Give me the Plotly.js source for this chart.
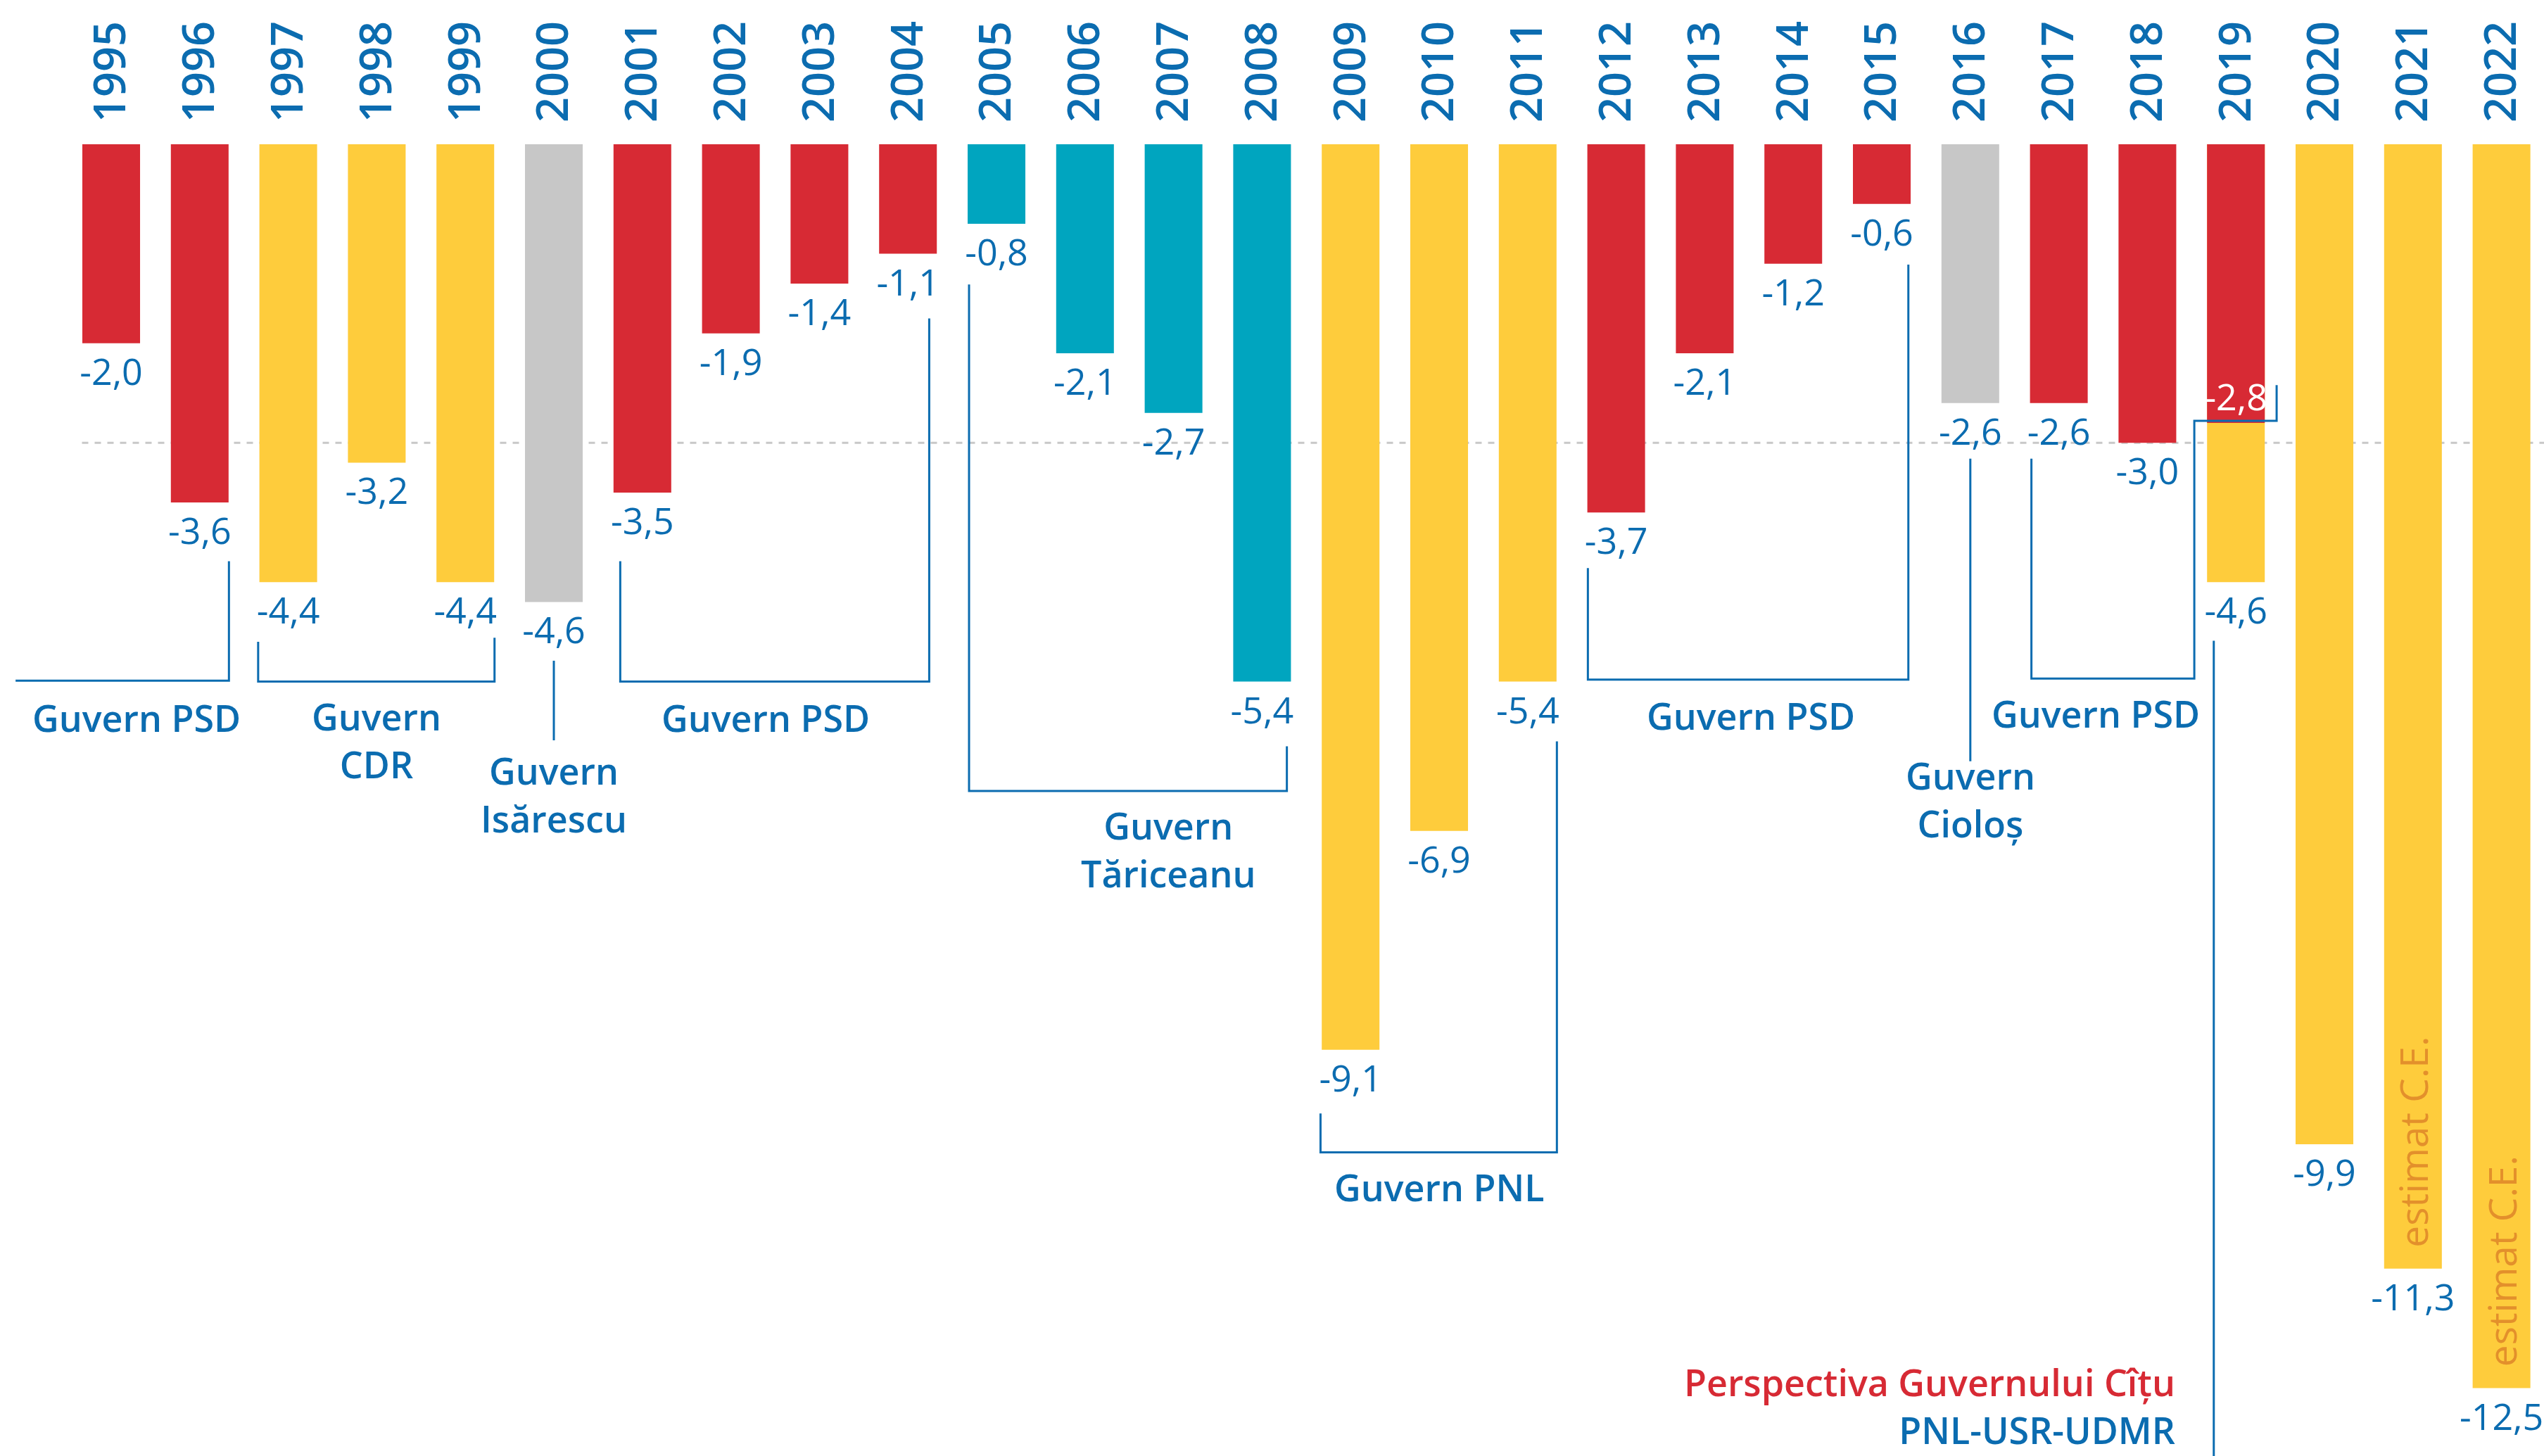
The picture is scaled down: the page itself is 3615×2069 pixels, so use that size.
<!DOCTYPE html>
<html>
<head>
<meta charset="utf-8">
<script src="https://cdn.plot.ly/plotly-3.0.1.min.js"></script>
<style>
  html, body { margin: 0; padding: 0; background: #fff; }
  #plot { width: 3615px; height: 2069px; }
</style>
</head>
<body>
<div id="plot"></div>
<script>
// deficit bugetar (% PIB), 1995-2022
const years = ["1995", "1996", "1997", "1998", "1999", "2000", "2001", "2002", "2003", "2004",
  "2005", "2006", "2007", "2008", "2009", "2010", "2011", "2012", "2013", "2014",
  "2015", "2016", "2017", "2018", "2019", "2020", "2021", "2022"];
// lungimea barelor asa cum sunt desenate
const deficit = [-2.0, -3.6, -4.4, -3.2, -4.4, -4.6, -3.5, -1.9, -1.4, -1.1,
  -0.8, -2.1, -2.7, -5.4, -9.1, -6.9, -5.4, -3.7, -2.1, -1.2,
  -0.6, -2.6, -2.6, -3.0, -2.8, -10.05, -11.3, -12.5];
// valorile scrise sub bare
const deficitLabel = [-2.0, -3.6, -4.4, -3.2, -4.4, -4.6, -3.5, -1.9, -1.4, -1.1,
  -0.8, -2.1, -2.7, -5.4, -9.1, -6.9, -5.4, -3.7, -2.1, -1.2,
  -0.6, -2.6, -2.6, -3.0, -2.8, -9.9, -11.3, -12.5];
const party = ["PSD", "PSD", "CDR", "CDR", "CDR", "tehnocrat", "PSD", "PSD", "PSD", "PSD",
  "PNL-PD", "PNL-PD", "PNL-PD", "PNL-PD", "PNL", "PNL", "PNL", "PSD", "PSD", "PSD",
  "PSD", "tehnocrat", "PSD", "PSD", "PSD", "PNL", "PNL", "PNL"];
// 2019 revizuit (bara galbena sub cea rosie)
const revisedIdx = [24];
const revisedBar = [-4.4];
const revisedLabel = [-4.6];
const estimatIdx = [26, 27];
const estimatText = "estimat C.E.";

const BLUE = "#0b6cb0";
const RED = "#d72a34";
const partyColor = {
  "PSD": RED,
  "CDR": "#fecc3c",
  "PNL": "#fecc3c",
  "tehnocrat": "#c7c7c7",
  "PNL-PD": "#00a5bf"
};
const FONT = "Open Sans, Noto Sans, sans-serif";

const fmt = (v) => v.toFixed(1).replace(".", ",");
const idx = years.map((_, i) => i);

const mainTrace = {
  type: "bar",
  x: idx,
  y: deficit,
  marker: { color: party.map(p => partyColor[p]), line: { width: 0 } },
  text: deficitLabel.map(fmt),
  textposition: idx.map(i => revisedIdx.includes(i) ? "inside" : "outside"),
  insidetextanchor: "end",
  textangle: 0,
  constraintext: "none",
  cliponaxis: false,
  textfont: { family: FONT, size: 52, color: idx.map(i => revisedIdx.includes(i) ? "#ffffff" : BLUE) },
  hoverinfo: "skip"
};

const revisedTrace = {
  type: "bar",
  x: revisedIdx,
  y: revisedBar,
  marker: { color: partyColor["PNL"], line: { width: 0 } },
  text: revisedLabel.map(fmt),
  textposition: "outside",
  textangle: 0,
  constraintext: "none",
  cliponaxis: false,
  textfont: { family: FONT, size: 52, color: BLUE },
  hoverinfo: "skip"
};

// acolade guverne (coordonate: index an, valoare)
const brackets = [
  [[-1.08, -5.39], [1.33, -5.39], [1.33, -4.19]],
  [[1.66, -5.0], [1.66, -5.40], [4.33, -5.40], [4.33, -4.96]],
  [[5, -5.19], [5, -5.99]],
  [[5.75, -4.19], [5.75, -5.40], [9.24, -5.40], [9.24, -1.75]],
  [[9.69, -1.41], [9.69, -6.50], [13.28, -6.50], [13.28, -6.05]],
  [[13.66, -9.74], [13.66, -10.13], [16.33, -10.13], [16.33, -6.0]],
  [[16.68, -4.26], [16.68, -5.38], [20.3, -5.38], [20.3, -1.21]],
  [[21, -3.16], [21, -6.2]],
  [[21.69, -3.16], [21.69, -5.37], [23.53, -5.37], [23.53, -2.78], [24.46, -2.78], [24.46, -2.42]],
  [[23.75, -4.99], [23.75, -13.6]]
];

const groupLabels = [
  { t: "Guvern PSD", x: 0.29, y: -5.76 },
  { t: "Guvern<br>CDR", x: 3, y: -5.985 },
  { t: "Guvern<br>Isărescu", x: 5, y: -6.53 },
  { t: "Guvern PSD", x: 7.39, y: -5.76 },
  { t: "Guvern<br>Tăriceanu", x: 11.94, y: -7.085 },
  { t: "Guvern PNL", x: 15.0, y: -10.48 },
  { t: "Guvern PSD", x: 18.52, y: -5.74 },
  { t: "Guvern<br>Cioloș", x: 21, y: -6.58 },
  { t: "Guvern PSD", x: 22.42, y: -5.72 }
];

const shapes = [{
  type: "line", xref: "x", yref: "y",
  x0: -0.33, x1: 27.6, y0: -3, y1: -3,
  line: { color: "#c8c8c8", width: 3, dash: "dash" },
  layer: "below"
}].concat(brackets.map(pts => ({
  type: "path", xref: "x", yref: "y",
  path: pts.map((p, k) => (k ? "L" : "M") + p[0] + "," + p[1]).join(" "),
  line: { color: BLUE, width: 3 },
  layer: "above"
})));

const annotations = groupLabels.map(g => ({
  x: g.x, y: g.y, xref: "x", yref: "y",
  text: g.t, showarrow: false,
  xanchor: "center", yanchor: "middle", align: "center",
  font: { family: FONT, size: 52, color: BLUE, weight: 600 }
}));

annotations.push({
  x: 23.33, y: -13.182, xref: "x", yref: "y",
  text: '<span style="color:' + RED + '">Perspectiva Guvernului Cîțu</span><br>PNL-USR-UDMR',
  showarrow: false,
  xanchor: "right", yanchor: "bottom", align: "right",
  font: { family: FONT, size: 52, color: BLUE, weight: 600 }
});

estimatIdx.forEach(i => {
  annotations.push({
    x: i, y: deficit[i], xref: "x", yref: "y",
    text: estimatText, showarrow: false, textangle: -90,
    xanchor: "center", yanchor: "bottom", yshift: 28,
    font: { family: FONT, size: 55, color: "#e3902b" }
  });
});

const layout = {
  width: 3615,
  height: 2069,
  margin: { l: 0, r: 0, t: 175, b: 0 },
  paper_bgcolor: "#ffffff",
  plot_bgcolor: "#ffffff",
  showlegend: false,
  barmode: "overlay",
  bargap: 0.348,
  xaxis: {
    range: [-1.256, 27.48],
    side: "top",
    tickmode: "array",
    tickvals: idx,
    ticktext: years,
    tickangle: -90,
    ticks: "",
    showgrid: false,
    zeroline: false,
    showline: false,
    tickfont: { family: FONT, size: 63, color: BLUE, weight: 600 },
    fixedrange: true
  },
  yaxis: {
    range: [-13.182, 0.212],
    visible: false,
    fixedrange: true
  },
  shapes: shapes,
  annotations: annotations
};

Plotly.newPlot("plot", [revisedTrace, mainTrace], layout, { staticPlot: true });
</script>
</body>
</html>
